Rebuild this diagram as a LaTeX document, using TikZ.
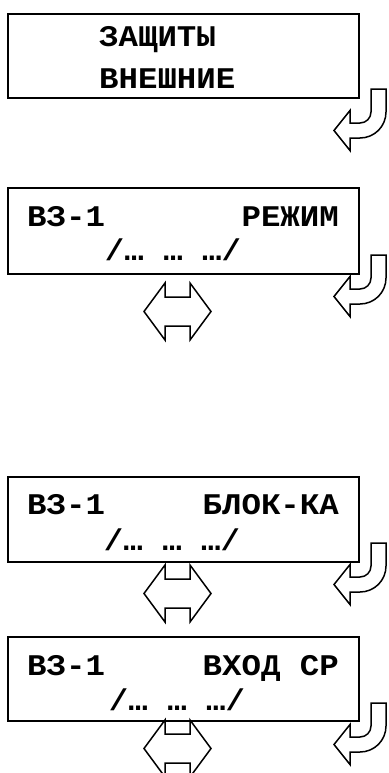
\documentclass[tikz,border=0pt]{standalone}
\usepackage{fontspec}
\newfontfamily\lcdfont[FakeStretch=1.08]{Liberation Mono}
\tikzset{
  screen/.style={draw, line width=2bp, inner sep=0pt, anchor=north west},
  lcd/.style={inner sep=0pt, font=\lcdfont\bfseries\fontsize{30bp}{36bp}\selectfont},
  blockarrow/.style={draw, line width=1.5bp, fill=white, line join=miter},
  hookarrow/.pic={
    \draw[blockarrow] (0,0) -- (16,-20) -- (16,-7.5) -- (26,-7.5)
      .. controls (32.1,-7.5) and (37,-12.4) .. (37,-18.5)
      -- (37,-41.5) -- (52,-41.5) -- (52,-18.5)
      .. controls (52,-4.1) and (40.4,7.5) .. (26,7.5)
      -- (16,7.5) -- (16,20) -- cycle;
  },
  dblarrow/.pic={
    \draw[blockarrow] (-33.5,0) -- (-12.5,-28.5) -- (-12.5,-14.5) -- (12.5,-14.5)
      -- (12.5,-28.5) -- (33.5,0) -- (12.5,28.5) -- (12.5,14.5)
      -- (-12.5,14.5) -- (-12.5,28.5) -- cycle;
  }
}
\begin{document}
\begin{tikzpicture}[x=1bp,y=-1bp]
\useasboundingbox (0,0) rectangle (388,773);
\clip (0,0) rectangle (388,773);
\fill[white] (0,0) rectangle (388,773);

% screen 1
\node[screen, minimum width=351bp, minimum height=84bp] (s1) at (7,13) {};
\node[lcd, anchor=base west] (s1a) at (99,47) {ЗАЩИТЫ};
\node[lcd, anchor=base west] (s1b) at (99,88) {ВНЕШНИЕ};
\pic at (334,130.5) {hookarrow};

% screen 2
\node[screen, minimum width=351bp, minimum height=86bp] (s2) at (7,187) {};
\node[lcd, anchor=base west] (s2a) at (27,226) {ВЗ-1};
\node[lcd, anchor=base east] (s2b) at (339,226) {РЕЖИМ};
\node[lcd, anchor=base] (s2c) at (173,260) {/… … …/};
\pic at (334,296.5) {hookarrow};
\pic at (177.5,311.5) {dblarrow};

% screen 3
\node[screen, minimum width=351bp, minimum height=85bp] (s3) at (7,476) {};
\node[lcd, anchor=base west] (s3a) at (27,514) {ВЗ-1};
\node[lcd, anchor=base east] (s3b) at (339,514) {БЛОК-КА};
\node[lcd, anchor=base] (s3c) at (172,550) {/… … …/};
\pic at (334,584.5) {hookarrow};
\pic at (177.5,593.5) {dblarrow};

% screen 4
\node[screen, minimum width=351bp, minimum height=84bp] (s4) at (7,636) {};
\node[lcd, anchor=base west] (s4a) at (27,675) {ВЗ-1};
\node[lcd, anchor=base east] (s4b) at (339,675) {ВХОД СР};
\node[lcd, anchor=base] (s4c) at (177,710) {/… … …/};
\pic at (334,744.5) {hookarrow};
\pic at (177.5,748.5) {dblarrow};
\end{tikzpicture}
\end{document}
